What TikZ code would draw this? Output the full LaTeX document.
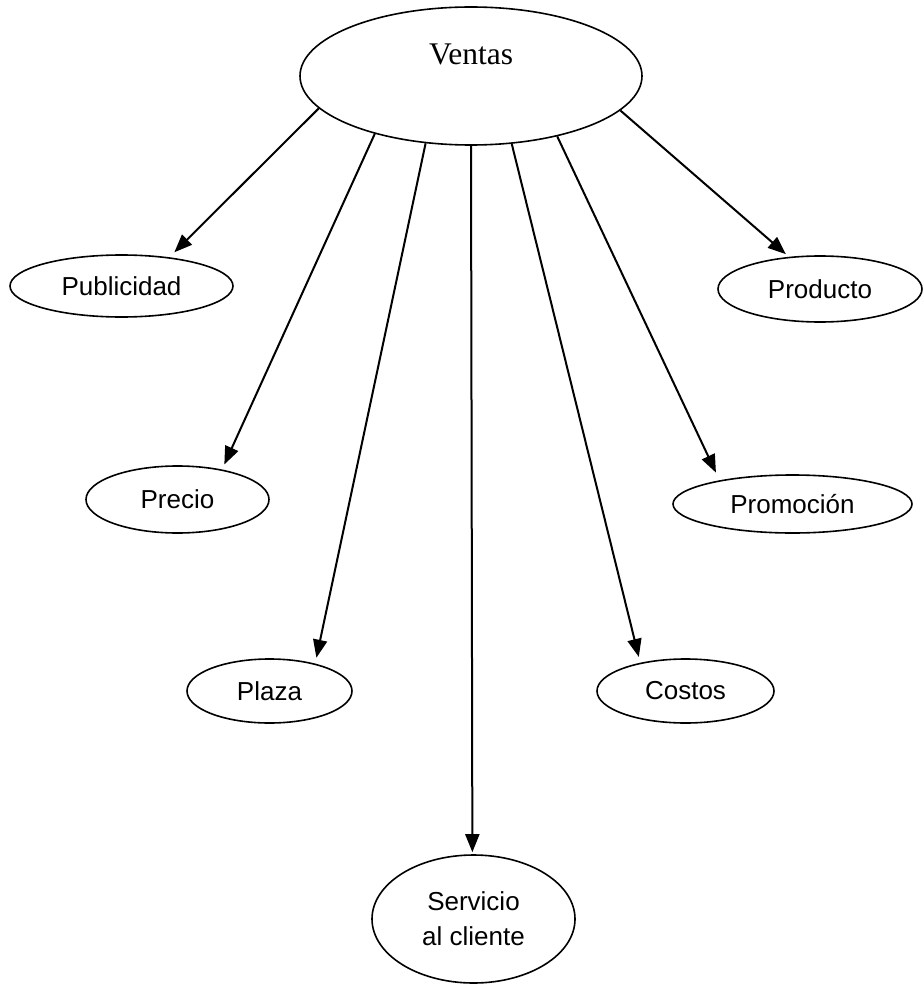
\documentclass[tikz,border=0pt]{standalone}
\usepackage{fontspec}
\setmainfont{Liberation Sans}
\newfontfamily\timesf{Liberation Serif}
\usetikzlibrary{shapes.geometric,arrows.meta}
\tikzset{
  bub/.style={ellipse, draw, line width=1.6pt, inner sep=0pt, align=center,
    font=\fontsize{26}{35}\selectfont},
  arr/.style={line width=2pt, -{Triangle[length=18pt,width=14pt]}},
}
\begin{document}
\begin{tikzpicture}[x=1pt,y=-1pt]
\useasboundingbox (0,0) rectangle (923,984);
\node[bub, minimum width=342pt, minimum height=138pt, font=\timesf\fontsize{31.5}{36}\selectfont] (ven) at (471,76) {\smash{\raisebox{11pt}{Ventas}}};
\node[bub, minimum width=223pt, minimum height=62pt] (pub) at (121.5,286) {Publicidad};
\node[bub, minimum width=204pt, minimum height=66pt] (prod) at (820,289) {Producto};
\node[bub, minimum width=183pt, minimum height=67pt] (pre) at (177.5,499.5) {Precio};
\node[bub, minimum width=239pt, minimum height=58pt] (prom) at (792.5,504) {Promoción};
\node[bub, minimum width=165pt, minimum height=64pt] (pla) at (269.5,691) {Plaza};
\node[bub, minimum width=177pt, minimum height=64pt] (cos) at (685.5,691) {Costos};
\node[bub, minimum width=203pt, minimum height=128pt] (ser) at (473.5,919) {Servicio\\al cliente};
\draw[arr, shorten >=7pt] (ven.192.9) -- (pub.31.3);
\draw[arr, shorten >=5.5pt] (ven.211.1) -- (pre.34.3);
\draw[arr, shorten >=6pt] (ven.236.5) -- (pla.31.4);
\draw[arr, shorten >=2pt] (ven.270) -- (ser.91);
\draw[arr, shorten >=6pt] (ven.301.1) -- (cos.148.6);
\draw[arr, shorten >=8.5pt] (ven.325.4) -- (prom.162.2);
\draw[arr, shorten >=4pt] (ven.347.1) -- (prod.134.7);
\end{tikzpicture}
\end{document}
